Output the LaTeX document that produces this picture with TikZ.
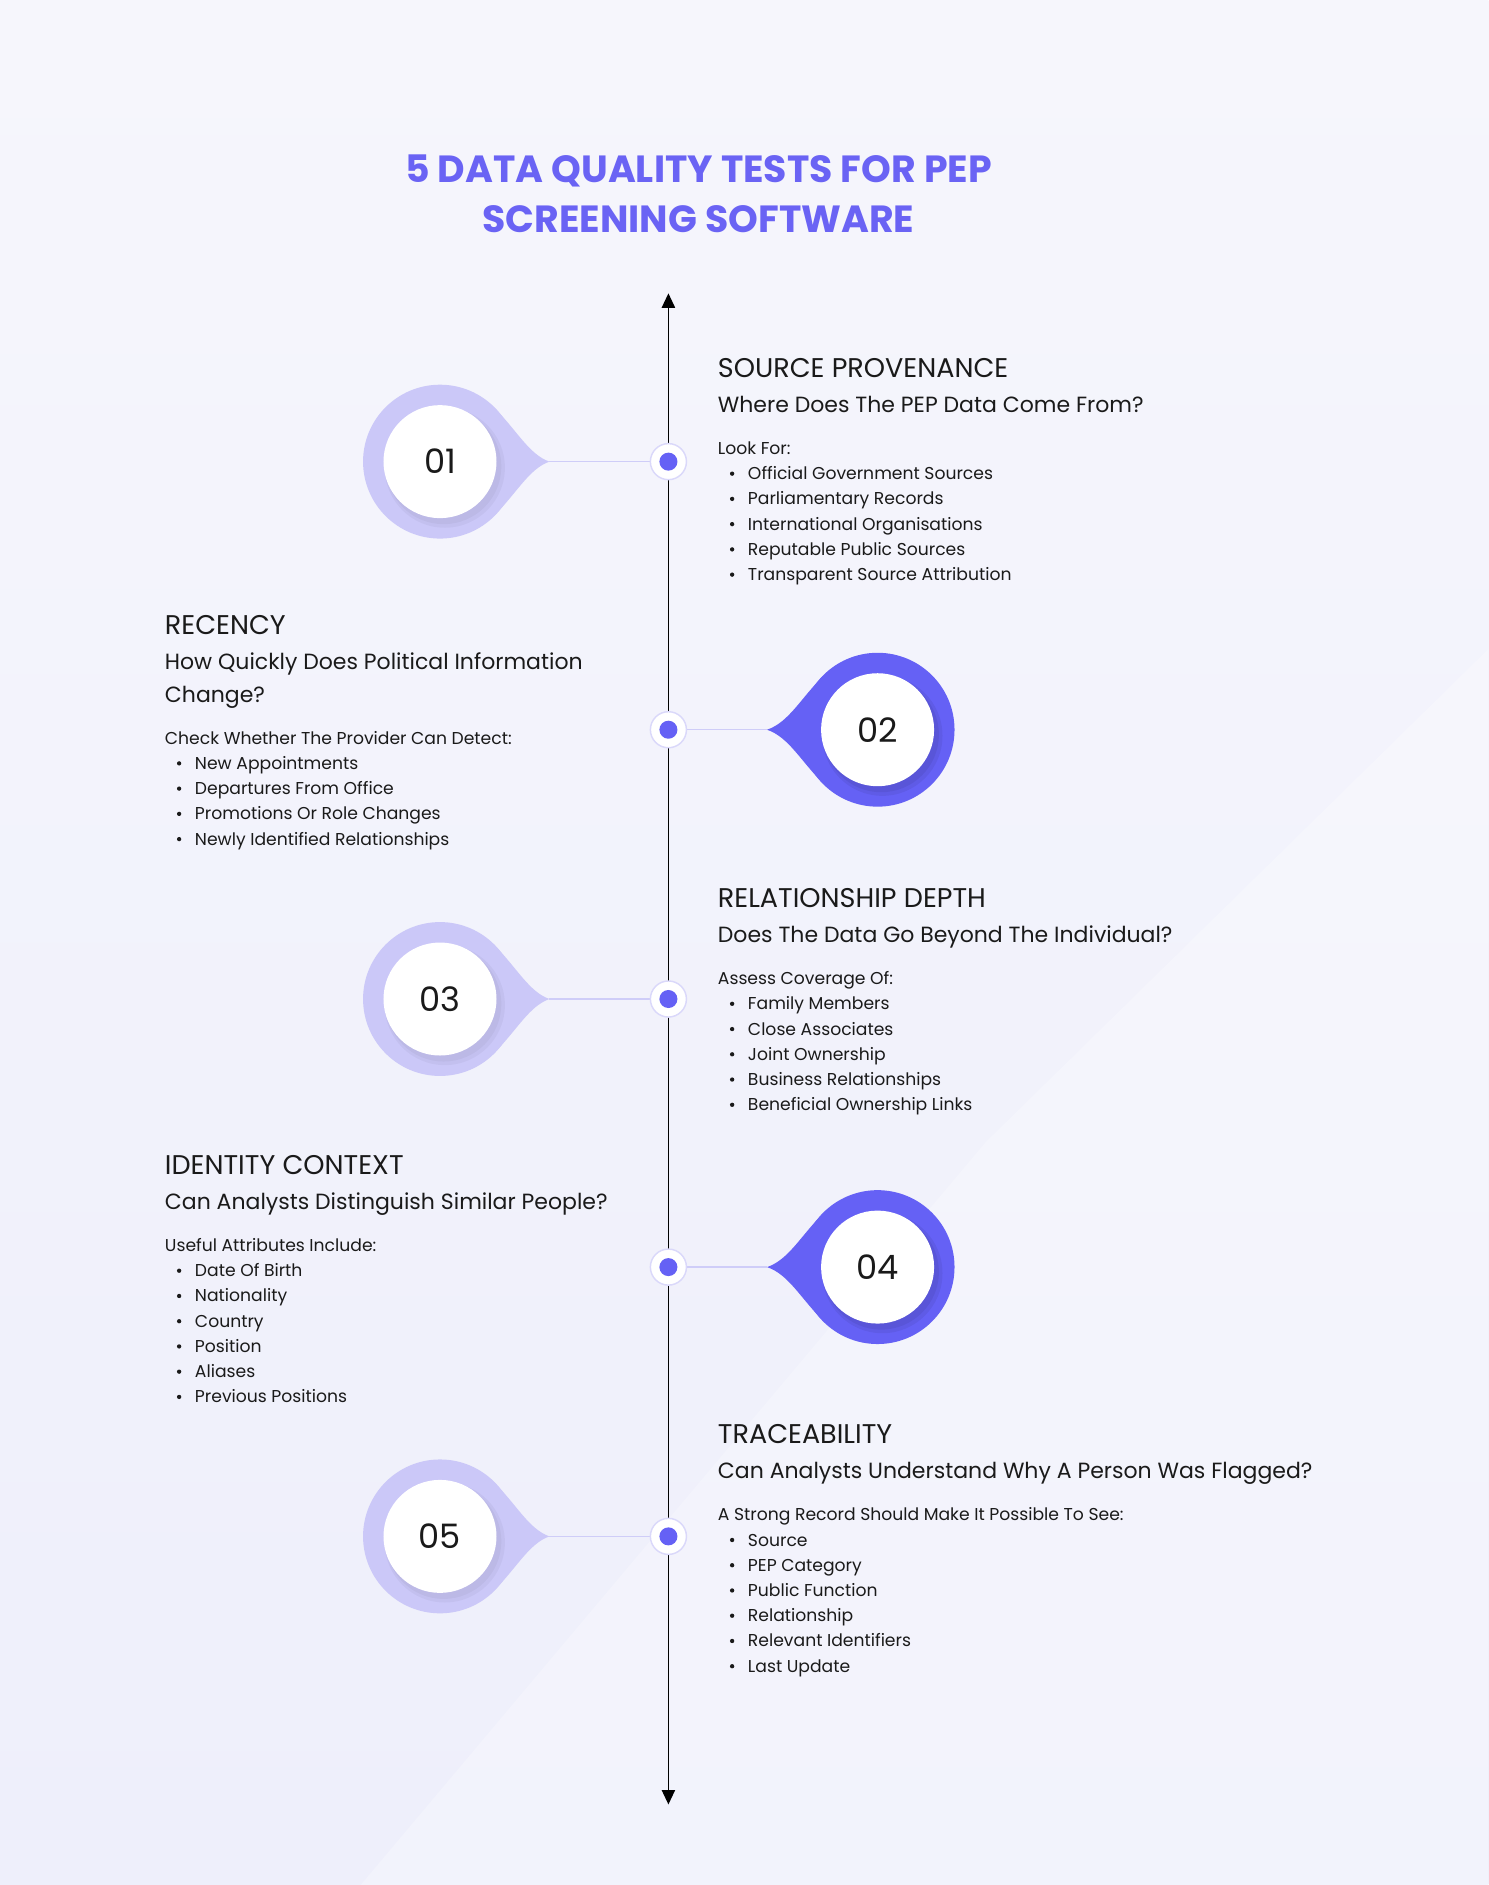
\documentclass[tikz,border=0pt]{standalone}
\usepackage{fontspec}
\setmainfont{Poppins}
\usetikzlibrary{arrows.meta}
\definecolor{bgA}{HTML}{F6F6FC}
\definecolor{bgB}{HTML}{EEEFFB}
\definecolor{lite}{HTML}{CBC8F8}
\definecolor{dark}{HTML}{6561F5}
\definecolor{ttl}{HTML}{6A63F4}
\definecolor{halo}{HTML}{DAD8FA}
\definecolor{conn}{HTML}{CFCDF8}
\definecolor{txt}{HTML}{1A1A1A}
\tikzset{
 hd/.style={anchor=base west,font=\fontsize{22.5}{25}\selectfont,text=txt,inner sep=0},
 sb/.style={anchor=base west,font=\fontsize{18.3}{21}\selectfont,text=txt,inner sep=0},
 it/.style={anchor=base west,font=\fontsize{14.3}{17}\selectfont,text=txt,inner sep=0},
 num/.style={font=\fontsize{28}{30}\selectfont,text=txt},
}
\newcommand{\blk}[7]{% x, y heading baseline, heading, sub lines, intro y offset, intro, items
 \node[hd] (h#1#2) at (#1,#2) {#3};
 \foreach \s [count=\i] in {#4} \node[sb] at (#1,#2+29+27*\i-27) {\s};
 \node[it] at (#1,#2+#5) {#6};
 \foreach \s [count=\i] in {#7} {\node[it] at (#1+25,#2+#5+21*\i) {\s};
   \fill[txt] (#1+12,#2+#5+21*\i-5) circle (1.8);}
}
\newcommand{\tearR}[3]{% cx cy label  (tip to right)
 \fill[lite] (#1+45,#2-45) .. controls (#1+64,#2-26) and (#1+74,#2-6) .. (#1+91,#2) .. controls (#1+74,#2+6) and (#1+64,#2+26) .. (#1+45,#2+45) -- cycle;
 \fill[lite] (#1,#2) circle (64);
 \fill[black,opacity=0.035] (#1+4,#2+5) circle (50);
 \fill[black,opacity=0.035] (#1+3,#2+4) circle (48);
 \fill[white] (#1,#2) circle (47);
 \node[num] (n#3) at (#1,#2) {#3};
 \draw[conn,line width=1.2] (#1+91,#2) -- (541,#2);
 \fill[white] (556,#2) circle (15); \draw[halo,line width=1.2] (556,#2) circle (15);
 \fill[dark] (556,#2) circle (7.5);
}
\newcommand{\tearL}[3]{% tip to left
 \fill[dark] (#1-45,#2-45) .. controls (#1-64,#2-26) and (#1-74,#2-6) .. (#1-92,#2) .. controls (#1-74,#2+6) and (#1-64,#2+26) .. (#1-45,#2+45) -- cycle;
 \fill[dark] (#1,#2) circle (64);
 \fill[black,opacity=0.06] (#1+4,#2+5) circle (50);
 \fill[black,opacity=0.06] (#1+3,#2+4) circle (48);
 \fill[white] (#1,#2) circle (47);
 \node[num] (n#3) at (#1,#2) {#3};
 \draw[conn,line width=1.2] (571,#2) -- (#1-92,#2);
 \fill[white] (556,#2) circle (15); \draw[halo,line width=1.2] (556,#2) circle (15);
 \fill[dark] (556,#2) circle (7.5);
}
\begin{document}
\begin{tikzpicture}[x=1pt,y=-1pt]
\useasboundingbox (0,0) rectangle (1238,1568);
\shade[top color=bgA,bottom color=bgB] (0,0) rectangle (1238,1568);
\fill[white,opacity=0.25] (820,950) -- (1238,540) -- (1238,1568) -- (300,1568) -- cycle;
\node[font=\fontsize{31.5}{42}\selectfont\bfseries,text=ttl,align=center] (title) at (581,161) {5 DATA QUALITY TESTS FOR PEP\\SCREENING SOFTWARE};
\coordinate (top) at (556,244);
\coordinate (bot) at (556,1501);
\draw[black,line width=1.2,{Triangle[length=12,width=11]}-{Triangle[length=12,width=11]}] (top) -- (bot);
\tearR{366}{384}{01}
\tearL{730}{607}{02}
\tearR{366}{831}{03}
\tearL{730}{1054}{04}
\tearR{366}{1278}{05}
\blk{597}{314}{SOURCE PROVENANCE}{Where Does The PEP Data Come From?}{64}{Look For:}{Official Government Sources,Parliamentary Records,International Organisations,Reputable Public Sources,Transparent Source Attribution}
\blk{137}{528}{RECENCY}{How Quickly Does Political Information,Change?}{91}{Check Whether The Provider Can Detect:}{New Appointments,Departures From Office,Promotions Or Role Changes,Newly Identified Relationships}
\blk{597}{755}{RELATIONSHIP DEPTH}{Does The Data Go Beyond The Individual?}{64}{Assess Coverage Of:}{Family Members,Close Associates,Joint Ownership,Business Relationships,Beneficial Ownership Links}
\blk{137}{977}{IDENTITY CONTEXT}{Can Analysts Distinguish Similar People?}{64}{Useful Attributes Include:}{Date Of Birth,Nationality,Country,Position,Aliases,Previous Positions}
\blk{597}{1201}{TRACEABILITY}{Can Analysts Understand Why A Person Was Flagged?}{64}{A Strong Record Should Make It Possible To See:}{Source,PEP Category,Public Function,Relationship,Relevant Identifiers,Last Update}
\end{tikzpicture}
\end{document}
